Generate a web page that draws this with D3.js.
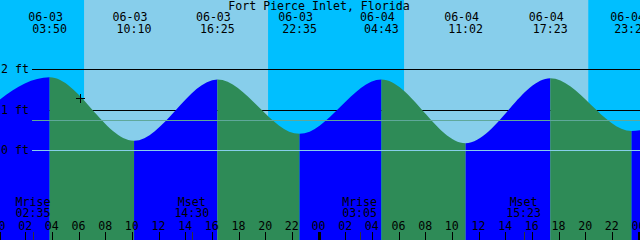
<!DOCTYPE html>
<meta charset="utf-8">
<style>
body { margin: 0; background: #fff; }
svg { display: block; }
text {
  font-family: "DejaVu Sans Mono", "Liberation Mono", monospace;
  font-size: 11.6px;
  fill: #000;
}
</style>
<body>
<script src="https://d3js.org/d3.v7.min.js"></script>
<script>
var title = "Fort Pierce Inlet, Florida";

// high / low tides (first and last are just outside the picture)
var tideTimes = ["06-02 21:25", "06-03 03:50", "06-03 10:10", "06-03 16:25", "06-03 22:35",
                 "06-04 04:43", "06-04 11:02", "06-04 17:23", "06-04 23:29", "06-05 05:45"];
var tideHeights = [0.45, 1.80, 0.23, 1.75, 0.40, 1.75, 0.17, 1.78, 0.47, 1.75];

// daylight spans
var sunrises = ["06-03 06:25", "06-04 06:25"];
var sunsets  = ["06-03 20:13", "06-04 20:14"];

var moonKinds = ["Mrise", "Mset", "Mrise", "Mset"];
var moonTimes = ["06-03 02:35", "06-03 14:30", "06-04 03:05", "06-04 15:23"];

var depthTicks = [0, 1, 2];
var meanLevel = 0.74;
var nowTime = "06-03 06:07", nowHeight = 1.30;

var w = 640, h = 240;
var parse = d3.timeParse("%m-%d %H:%M");
var fmtDate = d3.timeFormat("%m-%d"), fmtTime = d3.timeFormat("%H:%M");

var tides = tideTimes.map(function(t, i) { return {t: parse(t), h: tideHeights[i]}; });

var x = d3.scaleTime()
    .domain([parse("06-03 00:00"), parse("06-05 00:00")])
    .range([-1.5, 638.5]);
var y = d3.scaleLinear()
    .domain([0, 2])
    .range([150, 69.3]);

var svg = d3.select("body").append("svg")
    .attr("width", w)
    .attr("height", h);

// night everywhere, day on top
svg.append("rect").attr("width", w).attr("height", h).attr("fill", "#00bfff");
svg.selectAll(".day")
    .data(sunrises)
  .enter().append("rect")
    .attr("class", "day")
    .attr("x", function(d) { return x(parse(d)); })
    .attr("width", function(d, i) { return x(parse(sunsets[i])) - x(parse(d)); })
    .attr("y", 0)
    .attr("height", h)
    .attr("fill", "#87ceeb");

// depth lines that sit behind the water
svg.selectAll(".depth")
    .data(depthTicks.filter(function(d) { return d > 0; }))
  .enter().append("line")
    .attr("x1", 32).attr("x2", w)
    .attr("y1", function(d) { return Math.round(y(d)) + 0.5; })
    .attr("y2", function(d) { return Math.round(y(d)) + 0.5; })
    .attr("stroke", "#000");

// water: area clipped, coloured by rising / falling
var area = d3.area()
    .x(function(d) { return x(d.t); })
    .y0(h)
    .y1(function(d) { return y(d.h); })
    .curve(d3.curveMonotoneX);

svg.append("clipPath").attr("id", "water")
  .append("path")
    .attr("d", area(tides));

svg.append("g")
    .attr("clip-path", "url(#water)")
  .selectAll("rect")
    .data(tides.slice(0, -1))
  .enter().append("rect")
    .attr("x", function(d) { return x(d.t); })
    .attr("width", function(d, i) { return x(tides[i + 1].t) - x(d.t); })
    .attr("y", 0)
    .attr("height", h)
    .attr("fill", function(d, i) { return tides[i + 1].h > d.h ? "#0000ff" : "#2e8b57"; });

// datum and mean lines on top
svg.append("line")
    .attr("x1", 32).attr("x2", w)
    .attr("y1", Math.round(y(0)) + 0.5).attr("y2", Math.round(y(0)) + 0.5)
    .attr("stroke", "#87ceeb");
svg.append("line")
    .attr("x1", 32).attr("x2", w)
    .attr("y1", Math.round(y(meanLevel)) + 0.5).attr("y2", Math.round(y(meanLevel)) + 0.5)
    .attr("stroke", "#5fa89a");

svg.selectAll(".ylab")
    .data(depthTicks)
  .enter().append("text")
    .attr("x", 1)
    .attr("y", function(d) { return y(d) + 4; })
    .text(function(d) { return d + " ft"; });

// title + tide event labels
svg.append("text")
    .attr("x", 319).attr("y", 9.5)
    .attr("text-anchor", "middle")
    .text(title);

var shown = tides.slice(1, -1);
svg.selectAll(".tdate")
    .data(shown)
  .enter().append("text")
    .attr("x", function(d) { return x(d.t) - 4; })
    .attr("y", 21)
    .attr("text-anchor", "middle")
    .text(function(d) { return fmtDate(d.t); });
svg.selectAll(".ttime")
    .data(shown)
  .enter().append("text")
    .attr("x", function(d) { return x(d.t); })
    .attr("y", 33)
    .attr("text-anchor", "middle")
    .text(function(d) { return fmtTime(d.t); });

// moon rise / set
svg.selectAll(".mkind")
    .data(moonTimes)
  .enter().append("text")
    .attr("x", function(d) { return x(parse(d)); })
    .attr("y", 206)
    .attr("text-anchor", "middle")
    .text(function(d, i) { return moonKinds[i]; });
svg.selectAll(".mtime")
    .data(moonTimes)
  .enter().append("text")
    .attr("x", function(d) { return x(parse(d)); })
    .attr("y", 217)
    .attr("text-anchor", "middle")
    .text(function(d) { return fmtTime(parse(d)); });
svg.selectAll(".mtick")
    .data(moonTimes)
  .enter().append("line")
    .attr("x1", function(d) { return Math.round(x(parse(d))) + 0.5; })
    .attr("x2", function(d) { return Math.round(x(parse(d))) + 0.5; })
    .attr("y1", 232).attr("y2", h)
    .attr("stroke", "#333");

// hour ticks
var hours = x.ticks(d3.timeHour.every(2));
svg.selectAll(".hlab")
    .data(hours)
  .enter().append("text")
    .attr("x", function(d) { return x(d); })
    .attr("y", 230)
    .attr("text-anchor", "middle")
    .text(d3.timeFormat("%H"));
svg.selectAll(".htick")
    .data(hours)
  .enter().append("line")
    .attr("x1", function(d) { return Math.round(x(d)) + 0.5; })
    .attr("x2", function(d) { return Math.round(x(d)) + 0.5; })
    .attr("y1", 232).attr("y2", h)
    .attr("stroke", "#000")
    .attr("stroke-width", function(d) { return d.getHours() === 0 ? 3 : 1; });

// current time marker
var nx = Math.round(x(parse(nowTime))) + 0.5, ny = Math.round(y(nowHeight)) + 0.5;
svg.append("path")
    .attr("d", "M" + (nx - 4.5) + "," + ny + "h9M" + nx + "," + (ny - 4.5) + "v9")
    .attr("stroke", "#000")
    .attr("fill", "none");
</script>
